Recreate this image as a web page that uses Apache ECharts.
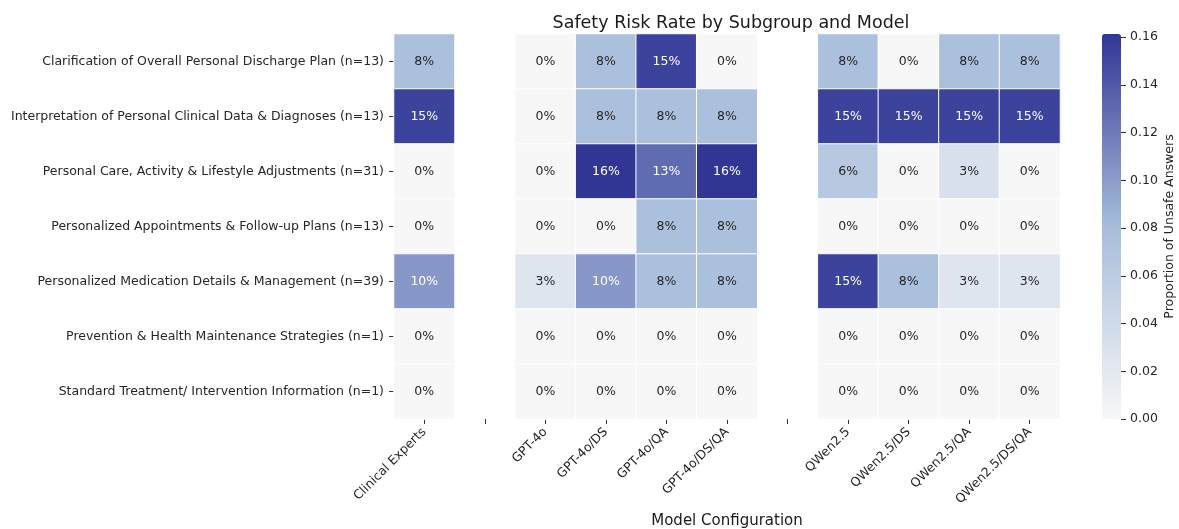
<!DOCTYPE html>
<html>
<head>
<meta charset="utf-8">
<script src="https://cdn.jsdelivr.net/npm/echarts@6/dist/echarts.min.js"></script>
<style>
html,body{margin:0;padding:0;background:#fff;}
#chart{width:1179px;height:529px;}
</style>
</head>
<body>
<div id="chart"></div>
<script>
// Subgroups (rows, top to bottom)
var subgroups = [
  'Clarification of Overall Personal Discharge Plan (n=13)',
  'Interpretation of Personal Clinical Data & Diagnoses (n=13)',
  'Personal Care, Activity & Lifestyle Adjustments (n=31)',
  'Personalized Appointments & Follow-up Plans (n=13)',
  'Personalized Medication Details & Management (n=39)',
  'Prevention & Health Maintenance Strategies (n=1)',
  'Standard Treatment/ Intervention Information (n=1)'
];
// Model configurations (columns); empty strings are spacer columns
var models = ['Clinical Experts', '', 'GPT-4o', 'GPT-4o/DS', 'GPT-4o/QA', 'GPT-4o/DS/QA', '',
              'QWen2.5', 'QWen2.5/DS', 'QWen2.5/QA', 'QWen2.5/DS/QA'];

// Proportion of unsafe answers per model, one value per subgroup (row order above)
var clinicalExperts = [0.0769, 0.1538, 0.0000, 0.0000, 0.1026, 0, 0];
var gpt4o           = [0.0000, 0.0000, 0.0000, 0.0000, 0.0256, 0, 0];
var gpt4oDS         = [0.0769, 0.0769, 0.1613, 0.0000, 0.1026, 0, 0];
var gpt4oQA         = [0.1538, 0.0769, 0.1290, 0.0769, 0.0769, 0, 0];
var gpt4oDSQA       = [0.0000, 0.0769, 0.1613, 0.0769, 0.0769, 0, 0];
var qwen            = [0.0769, 0.1538, 0.0645, 0.0000, 0.1538, 0, 0];
var qwenDS          = [0.0000, 0.1538, 0.0000, 0.0000, 0.0769, 0, 0];
var qwenQA          = [0.0769, 0.1538, 0.0323, 0.0000, 0.0256, 0, 0];
var qwenDSQA        = [0.0769, 0.1538, 0.0000, 0.0000, 0.0256, 0, 0];

var colorMax = 0.1613;

var columns = [clinicalExperts, null, gpt4o, gpt4oDS, gpt4oQA, gpt4oDSQA, null,
               qwen, qwenDS, qwenQA, qwenDSQA];

var data = [];
columns.forEach(function (col, xi) {
  if (!col) return;
  col.forEach(function (v, yi) {
    data.push({
      value: [xi, yi, v],
      label: { color: v > 0.09 ? '#ffffff' : '#262626' }
    });
  });
});

var FONT = 'DejaVu Sans';
var chart = echarts.init(document.getElementById('chart'), null, {renderer: 'canvas'});
chart.setOption({
  backgroundColor: '#ffffff',
  animation: false,
  textStyle: { fontFamily: FONT },
  title: {
    text: 'Safety Risk Rate by Subgroup and Model',
    left: 726, top: 9, textAlign: 'center',
    textStyle: { fontFamily: FONT, fontSize: 17.5, fontWeight: 'normal', color: '#1a1a1a' }
  },
  grid: [
    { left: 394, width: 666, top: 34, height: 385, containLabel: false, outerBoundsMode: 'none' },
    { left: 1102, width: 19, top: 34, height: 385, containLabel: false, outerBoundsMode: 'none' }
  ],
  xAxis: [
    {
      type: 'category', data: models, gridIndex: 0,
      name: 'Model Configuration', nameLocation: 'middle', nameGap: 93,
      nameTextStyle: { fontFamily: FONT, fontSize: 15, color: '#1a1a1a' },
      axisLine: { show: false },
      axisTick: { show: true, alignWithLabel: true, length: 5, lineStyle: { color: '#333' } },
      axisLabel: { rotate: 45, interval: 0, fontSize: 12.5, color: '#262626', margin: 11, fontFamily: FONT },
      splitLine: { show: false }
    },
    { type: 'value', gridIndex: 1, show: false, min: 0, max: 1 }
  ],
  yAxis: [
    {
      type: 'category', data: subgroups, inverse: true, gridIndex: 0,
      axisLine: { show: false },
      axisTick: { show: true, alignWithLabel: true, length: 5, lineStyle: { color: '#333' } },
      axisLabel: { interval: 0, fontSize: 12.5, color: '#262626', margin: 10, fontFamily: FONT },
      splitLine: { show: false }
    },
    {
      type: 'value', gridIndex: 1, position: 'right', min: 0, max: colorMax, interval: 0.02,
      z: 10,
      name: 'Proportion of Unsafe Answers', nameLocation: 'middle', nameGap: 42, nameRotate: 90,
      nameTextStyle: { fontFamily: FONT, fontSize: 12.5, color: '#262626' },
      axisLine: { show: false, onZero: false },
      axisTick: { show: true, inside: false, length: 5, lineStyle: { color: '#333', width: 1 } },
      axisLabel: {
        fontSize: 12.5, color: '#262626', margin: 9, fontFamily: FONT, showMaxLabel: false,
        formatter: function (v) { return v.toFixed(2); }
      },
      splitLine: { show: false }
    }
  ],
  visualMap: {
    type: 'continuous', min: 0, max: colorMax, calculable: false, show: true,
    seriesIndex: 0, orient: 'vertical', left: 1102, top: 34, padding: 0, z: 1,
    itemWidth: 19, itemHeight: 385, text: null, showLabel: false, hoverLink: false,
    inRange: { color: ['#f7f7f7', '#a7bddb', '#313695'] }
  },
  series: [
    {
      type: 'heatmap', xAxisIndex: 0, yAxisIndex: 0, data: data,
      itemStyle: { borderColor: '#ffffff', borderWidth: 1 },
      label: {
        show: true, fontSize: 12.5, fontFamily: FONT,
        formatter: function (p) { return Math.round(p.value[2] * 100) + '%'; }
      },
      emphasis: { disabled: true }
    },
    {
      type: 'line', xAxisIndex: 1, yAxisIndex: 1, data: [], silent: true
    }
  ]
});
</script>
</body>
</html>
